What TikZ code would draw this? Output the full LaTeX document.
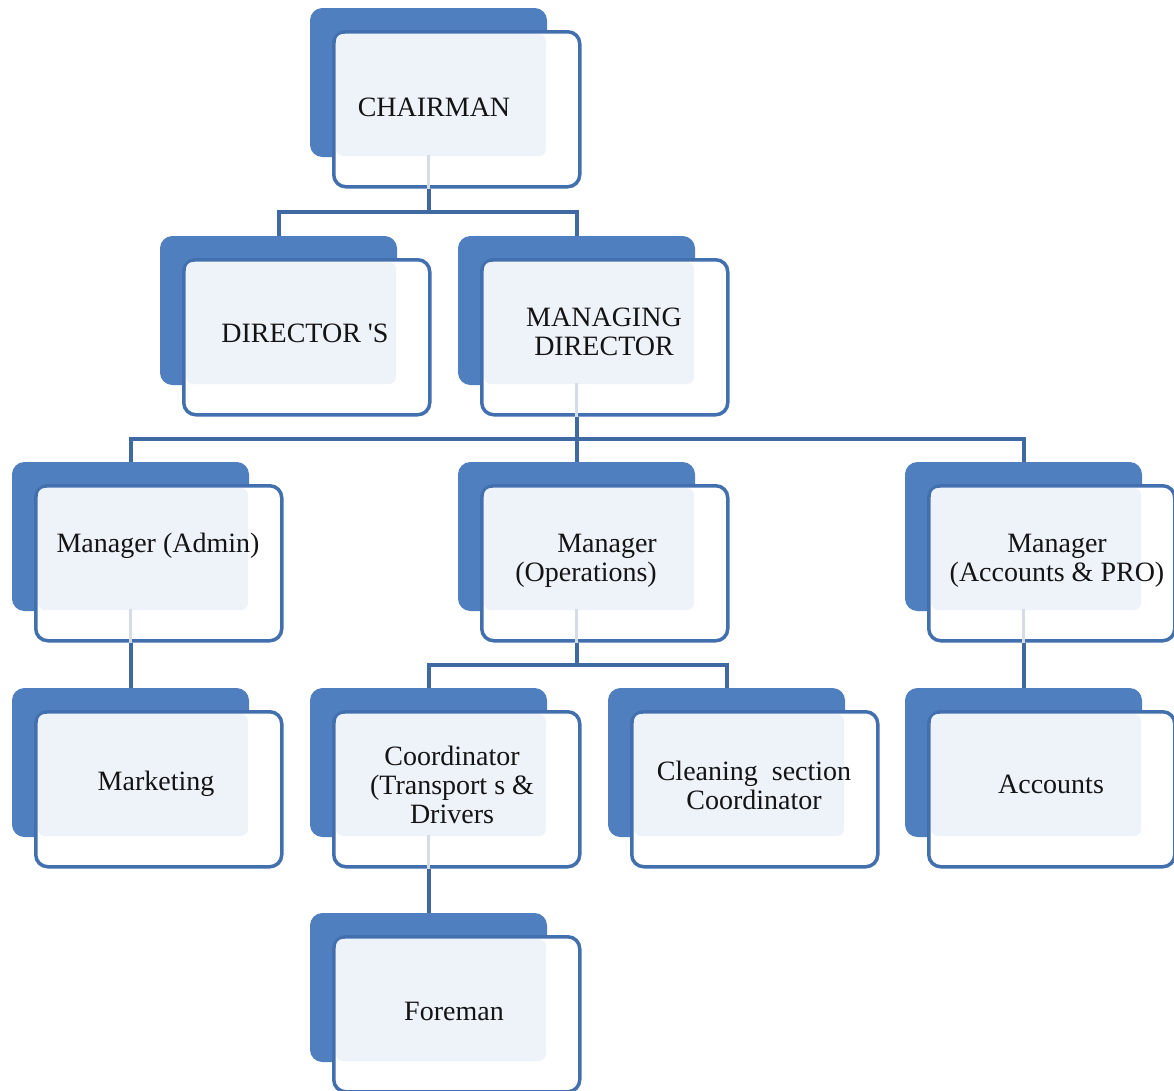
\documentclass[tikz,border=0pt]{standalone}
\usepackage{fontspec}
\setmainfont{Liberation Serif}
\definecolor{backblue}{HTML}{4F7FBE}
\definecolor{edgeblue}{HTML}{4270AE}
\definecolor{connblue}{HTML}{3F69A3}
\definecolor{lightfill}{HTML}{EEF2F9}
\definecolor{faintline}{HTML}{D5DCE8}
\definecolor{txt}{HTML}{141414}
\tikzset{
  backbox/.style={fill=backblue, draw=backblue, line width=1pt, rounded corners=12pt,
    minimum width=236pt, minimum height=148pt, inner sep=0pt, anchor=north west},
  frontbox/.style={fill=white, draw=edgeblue, line width=3.5pt, rounded corners=12pt,
    minimum width=246pt, minimum height=155pt, inner sep=0pt, anchor=north west},
  lbl/.style={font=\fontsize{28}{29}\selectfont, text=txt, align=center, inner sep=0pt},
  conn/.style={draw=connblue, line width=4pt},
  faint/.style={draw=faintline, line width=3pt},
}
% #1 name, #2 x, #3 y (top-left of back box)
\newcommand{\orgbox}[3]{%
  \node[backbox] (#1B) at (#2,#3) {};
  \node[frontbox] (#1) at ([shift={(22,22)}]#1B.north west) {};
  \fill[lightfill, rounded corners=7pt] ([shift={(4,4)}]#1.north west) rectangle ([shift={(-1,-1)}]#1B.south east);
}
\begin{document}
\begin{tikzpicture}[x=1pt,y=-1pt]
\useasboundingbox (0,0) rectangle (1174,1090);
\fill[white] (0,0) rectangle (1174,1090);

\orgbox{chair}{310}{8}
\orgbox{dir}{160}{236}
\orgbox{md}{458}{236}
\orgbox{madm}{12}{462}
\orgbox{mops}{458}{462}
\orgbox{macc}{905}{462}
\orgbox{mkt}{12}{688}
\orgbox{coord}{310}{688}
\orgbox{clean}{608}{688}
\orgbox{acc}{905}{688}
\orgbox{fore}{310}{913}

% faint traces of connectors beneath the front boxes
\foreach \n in {chair,md,madm,mops,macc,coord}{
  \draw[faint] ([yshift=2pt]\n B.south) -- ([yshift=-2pt]\n B.south |- \n.south);
}

% labels
\node[lbl] (chairT) at (434,107) {CHAIRMAN};
\node[lbl] (dirT) at (305,333) {DIRECTOR \textquotesingle S};
\node[lbl] (mdT) at (604,332) {MANAGING\\DIRECTOR};
\node[lbl] (madmT) at (158,546) {Manager (Admin)};
\node[lbl, align=right, anchor=east] (mopsT) at (657,561) {Manager\\(Operations)};
\node[lbl] (maccT) at (1057,561) {Manager\\(Accounts \& PRO)};
\node[lbl] (mktT) at (156,784) {Marketing};
\node[lbl] (coordT) at (452,785) {Coordinator\\(Transport s \&\\Drivers};
\node[lbl] (cleanT) at (754,785) {Cleaning\ \ section\\Coordinator};
\node[lbl] (accT) at (1051,784) {Accounts};
\node[lbl] (foreT) at (454,1011) {Foreman};

% connectors
\draw[conn] (chairB.south |- chair.south) -- ++(0,23) coordinate (j1) -| (dirB.north);
\draw[conn] (j1) -| (mdB.north);
\draw[conn] (mdB.south |- md.south) -- ++(0,22) coordinate (j2) -| (madmB.north);
\draw[conn] (j2) -- (mopsB.north);
\draw[conn] (j2) -| (maccB.north);
\draw[conn] (madmB.south |- madm.south) -- (mktB.north);
\draw[conn] (mopsB.south |- mops.south) -- ++(0,22) coordinate (j3) -| (coordB.north);
\draw[conn] (j3) -| (cleanB.north);
\draw[conn] (maccB.south |- macc.south) -- (accB.north);
\draw[conn] (coordB.south |- coord.south) -- (foreB.north);
\end{tikzpicture}
\end{document}
